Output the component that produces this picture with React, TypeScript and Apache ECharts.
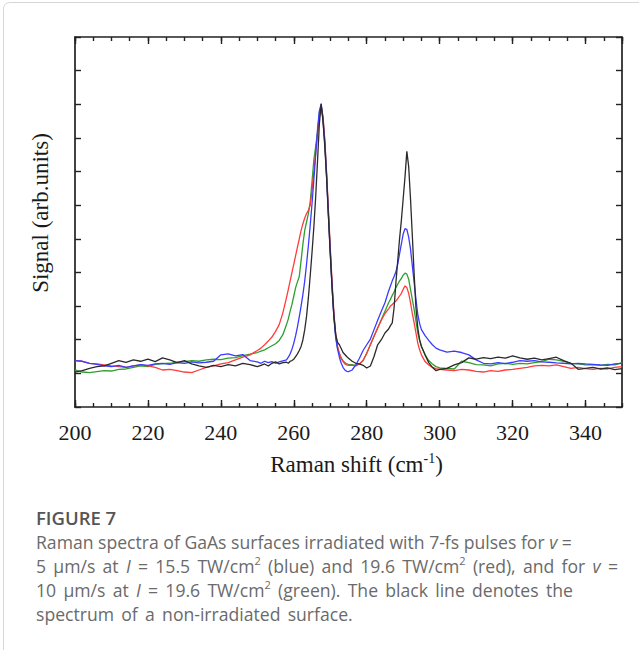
import React, { useEffect, useRef } from "react";
import * as echarts from "echarts";

// Raman shift grid (cm^-1)
const ramanShift = [
  200, 202, 204, 206, 208, 210, 212, 214, 216, 218, 220, 222, 224, 226, 228, 230, 232, 234, 236, 238, 240, 242, 244, 246, 248, 250,
  251, 252, 253, 254, 255, 256, 257,
  258, 258.5, 259, 259.5, 260, 260.5, 261, 261.5, 262, 262.5, 263, 263.5, 264, 264.5, 265, 265.5, 266, 266.5, 267, 267.5,
  268, 268.5, 269, 269.5, 270, 270.5, 271, 271.5, 272, 272.5, 273, 273.5, 274, 274.5, 275,
  276, 277, 278, 279, 280, 281, 282, 283, 284, 285,
  286, 286.5, 287, 287.5, 288, 288.5, 289, 289.5, 290, 290.5, 291, 291.5, 292, 292.5, 293, 293.5, 294, 294.5, 295,
  296, 297, 298, 299, 300,
  302, 304, 306, 308, 310, 312, 314, 316, 318, 320, 322, 324, 326, 328, 330, 332, 334, 336, 338, 340, 342, 344, 346, 348, 350,
];

// v = 5 um/s, I = 15.5 TW/cm2
const blueSignal = [
  1.38, 1.36, 1.30, 1.27, 1.22, 1.20, 1.24, 1.18, 1.22, 1.26, 1.24, 1.28, 1.30, 1.27, 1.32, 1.30, 1.34, 1.31, 1.33, 1.36, 1.55, 1.58, 1.52, 1.56, 1.38, 1.34,
  1.30, 1.36, 1.32, 1.35, 1.30, 1.34, 1.37,
  1.40, 1.48, 1.58, 1.72, 1.90, 2.12, 2.38, 2.68, 3.00, 3.35, 3.75, 4.25, 4.80, 5.40, 6.05, 6.75, 7.50, 8.25, 8.80, 9.00,
  8.55, 7.85, 6.85, 5.70, 4.60, 3.55, 2.65, 2.05, 1.72, 1.48, 1.30, 1.18, 1.10, 1.06, 1.05,
  1.10, 1.25, 1.45, 1.68, 1.85, 2.02, 2.30, 2.58, 2.85, 3.10,
  3.45, 3.60, 3.75, 3.88, 4.02, 4.25, 4.55, 4.85, 5.15, 5.30, 5.28, 5.05, 4.70, 4.20, 3.70, 3.20, 2.75, 2.48, 2.30,
  2.12, 1.98, 1.85, 1.75, 1.70,
  1.63, 1.66, 1.62, 1.55, 1.40, 1.30, 1.28, 1.32, 1.29, 1.33, 1.38, 1.36, 1.38, 1.34, 1.33, 1.31, 1.30, 1.28, 1.30, 1.28, 1.27, 1.25, 1.24, 1.28, 1.30,
];

// v = 5 um/s, I = 19.6 TW/cm2
const redSignal = [
  1.38, 1.36, 1.30, 1.28, 1.25, 1.22, 1.20, 1.18, 1.22, 1.25, 1.22, 1.18, 1.10, 1.12, 1.08, 1.04, 1.02, 1.10, 1.18, 1.22, 1.28, 1.32, 1.40, 1.48, 1.55, 1.68,
  1.75, 1.85, 1.96, 2.08, 2.25, 2.45, 2.80,
  3.25, 3.50, 3.75, 4.00, 4.25, 4.50, 4.75, 5.00, 5.25, 5.45, 5.62, 5.75, 5.85, 6.00, 6.45, 7.00, 7.55, 8.10, 8.60, 8.95,
  8.65, 7.95, 6.95, 5.85, 4.75, 3.70, 2.80, 2.15, 1.80, 1.60, 1.45, 1.35, 1.28, 1.25, 1.24,
  1.24, 1.22, 1.28, 1.38, 1.60, 1.85, 2.10, 2.35, 2.58, 2.78,
  2.92, 3.00, 3.05, 3.10, 3.15, 3.22, 3.30, 3.38, 3.50, 3.60, 3.55, 3.38, 3.10, 2.78, 2.50, 2.20, 1.90, 1.70, 1.55,
  1.35, 1.25, 1.18, 1.14, 1.12,
  1.10, 1.08, 1.12, 1.10, 1.06, 1.04, 1.08, 1.06, 1.10, 1.12, 1.15, 1.18, 1.22, 1.24, 1.22, 1.25, 1.20, 1.15, 1.18, 1.14, 1.12, 1.15, 1.13, 1.18, 1.20,
];

// v = 10 um/s, I = 19.6 TW/cm2
const greenSignal = [
  1.10, 1.04, 1.02, 1.05, 1.08, 1.07, 1.12, 1.13, 1.18, 1.22, 1.20, 1.27, 1.29, 1.30, 1.33, 1.35, 1.38, 1.36, 1.40, 1.42, 1.41, 1.45, 1.47, 1.53, 1.57, 1.62,
  1.66, 1.70, 1.76, 1.82, 1.88, 1.98, 2.15,
  2.45, 2.62, 2.85, 3.05, 3.30, 3.55, 3.72, 3.88, 4.35, 4.85, 5.25, 5.50, 5.75, 6.10, 6.70, 7.35, 7.75, 8.15, 8.75, 8.95,
  8.60, 7.90, 6.90, 5.75, 4.65, 3.60, 2.70, 2.10, 1.75, 1.58, 1.45, 1.38, 1.32, 1.28, 1.27,
  1.26, 1.24, 1.28, 1.38, 1.60, 1.85, 2.10, 2.35, 2.60, 2.85,
  3.10, 3.20, 3.32, 3.42, 3.55, 3.65, 3.75, 3.82, 3.92, 3.98, 3.95, 3.80, 3.50, 3.20, 2.90, 2.55, 2.20, 1.98, 1.80,
  1.55, 1.38, 1.28, 1.20, 1.16,
  1.15, 1.13, 1.36, 1.32, 1.26, 1.25, 1.22, 1.28, 1.30, 1.27, 1.30, 1.28, 1.32, 1.35, 1.42, 1.40, 1.36, 1.30, 1.28, 1.25, 1.26, 1.24, 1.27, 1.25, 1.32,
];

// non-irradiated surface
const blackSignal = [
  1.04, 1.08, 1.15, 1.20, 1.22, 1.30, 1.38, 1.33, 1.40, 1.36, 1.42, 1.35, 1.46, 1.40, 1.32, 1.38, 1.28, 1.22, 1.18, 1.24, 1.20, 1.26, 1.22, 1.30, 1.26, 1.20,
  1.24, 1.28, 1.22, 1.30, 1.34, 1.28, 1.32,
  1.33, 1.30, 1.36, 1.38, 1.42, 1.50, 1.58, 1.68, 1.80, 2.00, 2.30, 2.70, 3.25, 3.90, 4.60, 5.35, 6.25, 7.30, 8.40, 9.02,
  8.50, 7.75, 6.80, 5.65, 4.55, 3.55, 2.70, 2.15, 1.92, 1.85, 1.74, 1.62, 1.56, 1.50, 1.45,
  1.36, 1.30, 1.28, 1.24, 1.16, 1.22, 1.50, 1.85, 2.00, 2.20,
  2.32, 2.42, 2.50, 2.95, 3.70, 4.35, 5.00, 5.55, 6.20, 6.85, 7.60, 7.15, 6.20, 5.10, 3.95, 2.95, 2.35, 2.00, 1.80,
  1.55, 1.32, 1.18, 1.08, 1.12,
  1.15, 1.25, 1.32, 1.46, 1.42, 1.47, 1.44, 1.48, 1.45, 1.52, 1.46, 1.42, 1.45, 1.40, 1.44, 1.48, 1.38, 1.30, 1.12, 1.15, 1.18, 1.13, 1.16, 1.11, 1.14,
];

const xTitle = "{n|Raman shift (cm}{s|-1}{n|)}";
const yTitle = "Signal (arb.units)";
const figureLabel = "FIGURE 7";
const captionLines = [
  "Raman spectra of GaAs surfaces irradiated with 7-fs pulses for {i|v} =",
  "5 μm/s at {i|I} = 15.5 TW/cm{s|2} (blue) and 19.6 TW/cm{s|2} (red), and for {i|v} =",
  "10 μm/s at {i|I} = 19.6 TW/cm{s|2} (green). The black line denotes the",
  "spectrum of a non-irradiated surface.",
];

const SERIF = "'Liberation Serif', 'Times New Roman', serif";
const SANS = "'Open Sans', 'Noto Sans', sans-serif";
const AX = "#222";
const CAP = "#6a6a6a";
const CAP_SIZE = 17.6;

export default function App() {
  const ref = useRef<HTMLDivElement>(null);
  useEffect(() => {
    const chart = echarts.init(ref.current!, null, { renderer: "svg" });
    const mk = (name: string, ys: number[], color: string, z: number) => ({
      type: "line",
      name,
      xAxisIndex: 0,
      yAxisIndex: 0,
      data: ramanShift.map((x, i) => [x, ys[i]]),
      symbol: "none",
      showSymbol: false,
      silent: true,
      z,
      lineStyle: { color, width: 1.3 },
      itemStyle: { color },
    });
    const xBase = {
      type: "value",
      min: 200,
      max: 350,
      splitLine: { show: false },
    };
    const yBase = {
      type: "value",
      min: 0,
      max: 11,
      interval: 1,
      splitLine: { show: false },
      axisLabel: { show: false },
      axisLine: { show: true, onZero: false, lineStyle: { color: AX, width: 1.7 } },
      axisTick: { show: true, inside: true, length: 6, lineStyle: { color: AX, width: 1.4 } },
    };
    const capStyle = (text: string, wide: boolean) => ({
      text: wide ? text.split(" ").join("{w| }") : text,
      fontFamily: SANS,
      fontSize: CAP_SIZE,
      fill: CAP,
      verticalAlign: "middle",
      rich: {
        i: { fontFamily: SANS, fontSize: CAP_SIZE, fontStyle: "italic", fill: CAP, lineHeight: 22 },
        s: { fontFamily: SANS, fontSize: 11, fill: CAP, verticalAlign: "top", lineHeight: 12 },
        w: { fontFamily: SANS, fontSize: 28, fill: CAP, lineHeight: 22 },
      },
    });
    chart.setOption({
      animation: false,
      backgroundColor: "#ffffff",
      grid: { left: 75, right: 17, top: 37, bottom: 243, containLabel: false },
      xAxis: [
        {
          ...xBase,
          position: "bottom",
          interval: 20,
          axisLine: { show: true, onZero: false, lineStyle: { color: AX, width: 1.7 } },
          axisTick: { show: true, inside: true, length: 7, lineStyle: { color: AX, width: 1.4 } },
          axisLabel: { show: true, fontFamily: SERIF, fontSize: 22, color: "#1a1a1a", margin: 14, showMaxLabel: false },
          name: xTitle,
          nameLocation: "middle",
          nameGap: 44,
          nameTextStyle: {
            fontFamily: SERIF,
            fontSize: 23,
            color: "#1a1a1a",
            padding: [0, 0, 0, 16],
            rich: {
              n: { fontFamily: SERIF, fontSize: 23, color: "#1a1a1a", lineHeight: 27 },
              s: { fontFamily: SERIF, fontSize: 14, color: "#1a1a1a", verticalAlign: "top", lineHeight: 16 },
            },
          },
        },
        {
          ...xBase,
          position: "bottom",
          interval: 5,
          axisLine: { show: false, onZero: false },
          axisTick: { show: true, inside: true, length: 4, lineStyle: { color: AX, width: 1.4 } },
          axisLabel: { show: false },
        },
        {
          ...xBase,
          position: "top",
          interval: 20,
          axisLine: { show: true, onZero: false, lineStyle: { color: AX, width: 1.7 } },
          axisTick: { show: true, inside: true, length: 7, lineStyle: { color: AX, width: 1.4 } },
          axisLabel: { show: false },
        },
        {
          ...xBase,
          position: "top",
          interval: 5,
          axisLine: { show: false, onZero: false },
          axisTick: { show: true, inside: true, length: 4, lineStyle: { color: AX, width: 1.4 } },
          axisLabel: { show: false },
        },
      ],
      yAxis: [
        {
          ...yBase,
          position: "left",
          name: yTitle,
          nameLocation: "middle",
          nameGap: 23,
          nameTextStyle: { fontFamily: SERIF, fontSize: 23, color: "#1a1a1a", padding: [0, 0, 0, 18] },
        },
        { ...yBase, position: "right" },
      ],
      series: [
        mk("green", greenSignal, "#2f9e2f", 2),
        mk("red", redSignal, "#ff3b3b", 3),
        mk("blue", blueSignal, "#3b3bff", 4),
        mk("black", blackSignal, "#2a2a2a", 5),
      ],
      graphic: [
        {
          type: "rect",
          silent: true,
          z: -10,
          shape: { x: 3.5, y: 2.5, width: 800, height: 800, r: 6 },
          style: { fill: "none", stroke: "#d6d6d6", lineWidth: 1 },
        },
        {
          type: "text",
          x: 36,
          y: 517,
          style: { text: figureLabel, fontFamily: SANS, fontSize: 18.5, fontWeight: 600, fill: "#555555", verticalAlign: "middle" },
        },
        ...captionLines.map((t, i) => ({
          type: "text",
          x: 36,
          y: 541.5 + i * 24,
          style: capStyle(t, i > 0),
        })),
      ],
    });
    return () => chart.dispose();
  }, []);
  return (
    <div
      ref={ref}
      style={{ position: "absolute", left: 0, top: 0, width: 639, height: 650, background: "#fff" }}
    />
  );
}
